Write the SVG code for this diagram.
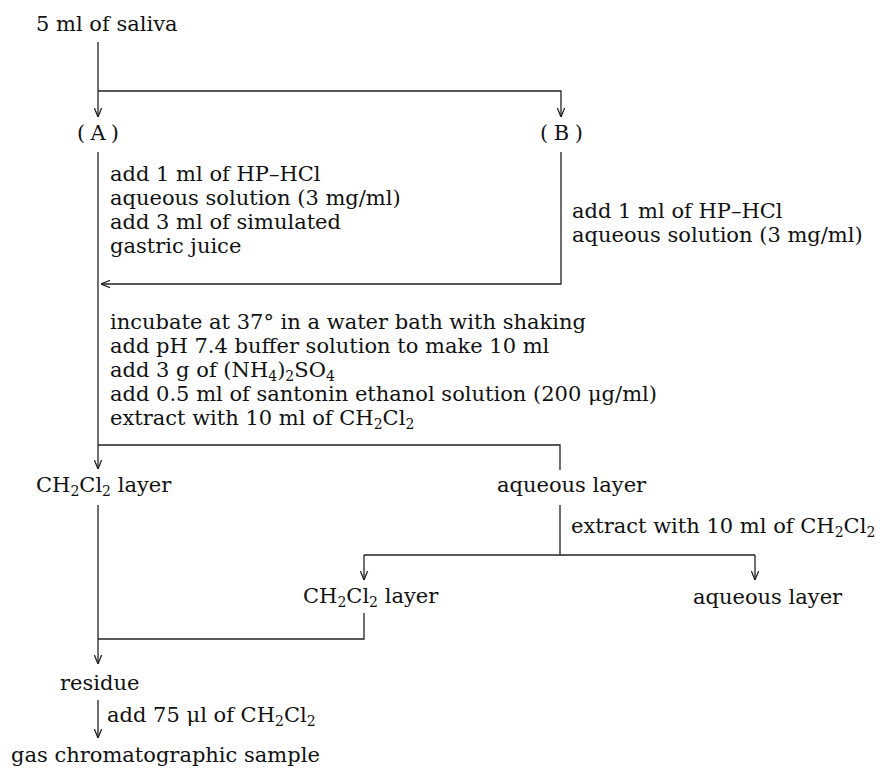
<svg xmlns="http://www.w3.org/2000/svg" width="882" height="772" viewBox="0 0 882 772">
  <style>
    text { font-family: "DejaVu Serif", "Liberation Serif", serif; font-size: 21px; fill: #111; }
    .sub { font-size: 14px; }
    .ln { stroke: #222; stroke-width: 1.3; fill: none; }
    .arr { marker-end: url(#ah); }
  </style>
  <defs>
    <marker id="ah" viewBox="0 0 10 10" refX="10" refY="5" markerWidth="9" markerHeight="9" markerUnits="userSpaceOnUse" orient="auto">
      <path d="M0,1 L10,5 L0,9" fill="none" stroke="#222" stroke-width="1.4"/>
    </marker>
  </defs>
  <rect width="882" height="772" fill="#fff"/>

  <g id="connectors">
    <line class="ln arr" x1="98" y1="42" x2="98" y2="117"/>
    <polyline class="ln arr" points="98,91 561,91 561,117"/>
    <line class="ln arr" x1="98" y1="152" x2="98" y2="469"/>
    <polyline class="ln arr" points="561,152 561,284 101,284"/>
    <polyline class="ln" points="98,445 560,445 560,470"/>
    <line class="ln" x1="560" y1="505" x2="560" y2="555"/>
    <line class="ln" x1="364" y1="555" x2="755" y2="555"/>
    <line class="ln arr" x1="364" y1="555" x2="364" y2="580"/>
    <line class="ln arr" x1="755" y1="555" x2="755" y2="580"/>
    <polyline class="ln" points="364,613 364,639 98,639"/>
    <line class="ln arr" x1="98" y1="505" x2="98" y2="664"/>
    <line class="ln arr" x1="98" y1="700" x2="98" y2="738"/>
  </g>

  <g id="saliva"><text x="36" y="31">5 ml of saliva</text></g>
  <g id="A"><text x="77" y="140" textLength="42">(A)</text></g>
  <g id="B"><text x="540" y="140" textLength="43">(B)</text></g>

  <g id="stepA">
    <text x="110" y="181">add 1 ml of HP–HCl</text>
    <text x="110" y="205">aqueous solution (3 mg/ml)</text>
    <text x="110" y="229">add 3 ml of simulated</text>
    <text x="110" y="253">gastric juice</text>
  </g>
  <g id="stepB">
    <text x="572" y="218">add 1 ml of HP–HCl</text>
    <text x="572" y="242">aqueous solution (3 mg/ml)</text>
  </g>

  <g id="stepMain">
    <text x="110" y="329">incubate at 37° in a water bath with shaking</text>
    <text x="110" y="353">add pH 7.4 buffer solution to make 10 ml</text>
    <text x="110" y="377">add 3 g of (NH<tspan class="sub" baseline-shift="-4">4</tspan>)<tspan class="sub" baseline-shift="-4">2</tspan>SO<tspan class="sub" baseline-shift="-4">4</tspan></text>
    <text x="110" y="401">add 0.5 ml of santonin ethanol solution (200 μg/ml)</text>
    <text x="110" y="425">extract with 10 ml of CH<tspan class="sub" baseline-shift="-4">2</tspan>Cl<tspan class="sub" baseline-shift="-4">2</tspan></text>
  </g>

  <g id="ch2cl2Layer1"><text x="36" y="492">CH<tspan class="sub" baseline-shift="-4">2</tspan>Cl<tspan class="sub" baseline-shift="-4">2</tspan> layer</text></g>
  <g id="aqueousLayer1"><text x="497" y="492">aqueous layer</text></g>
  <g id="stepExtract2"><text x="571" y="533">extract with 10 ml of CH<tspan class="sub" baseline-shift="-4">2</tspan>Cl<tspan class="sub" baseline-shift="-4">2</tspan></text></g>
  <g id="ch2cl2Layer2"><text x="303" y="603">CH<tspan class="sub" baseline-shift="-4">2</tspan>Cl<tspan class="sub" baseline-shift="-4">2</tspan> layer</text></g>
  <g id="aqueousLayer2"><text x="693" y="604">aqueous layer</text></g>
  <g id="residue"><text x="60" y="690">residue</text></g>
  <g id="stepAdd75"><text x="107" y="722">add 75 μl of CH<tspan class="sub" baseline-shift="-4">2</tspan>Cl<tspan class="sub" baseline-shift="-4">2</tspan></text></g>
  <g id="gcSample"><text x="11" y="762">gas chromatographic sample</text></g>
</svg>
